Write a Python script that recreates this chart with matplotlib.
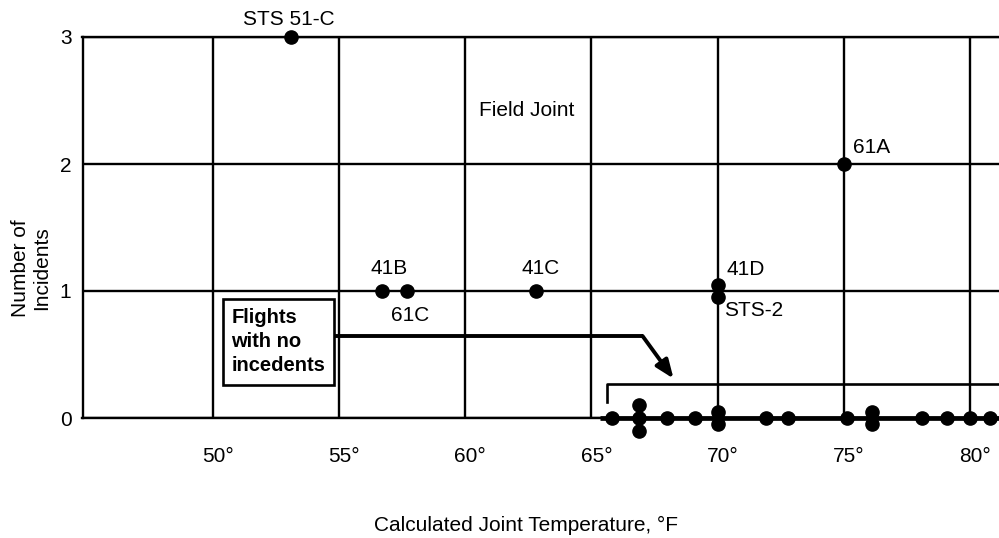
import matplotlib
matplotlib.use("Agg")
import matplotlib.pyplot as plt
from matplotlib.patches import Rectangle
from matplotlib.transforms import ScaledTranslation
from collections import defaultdict

plt.rcParams['font.family'] = ['Liberation Sans', 'DejaVu Sans']

# ---- data ----
incident_temps = [53.1, 56.7, 57.7, 62.8, 70.0, 70.0, 75.0]
incident_counts = [3, 1, 1, 1, 1, 1, 2]
incident_names = ["STS 51-C", "41B", "61C", "41C", "41D", "STS-2", "61A"]

zero_temps = [65.8, 66.9, 66.9, 66.9, 68.0, 69.1, 70.0, 70.0, 71.9, 72.8,
              75.1, 76.1, 76.1, 78.1, 79.1, 80.0, 80.8]
zero_counts = [0] * len(zero_temps)

x_ticks = [50, 55, 60, 65, 70, 75, 80]
x_tick_labels = ["50°", "55°", "60°", "65°", "70°", "75°", "80°"]
y_ticks = [0, 1, 2, 3]

title_text = "Field Joint"
box_text = "Flights\nwith no\nincedents"
x_label = "Calculated Joint Temperature, °F"
y_label = "Number of\nIncidents"

FS = 15

# ---- figure ----
W, H = 999, 538
fig = plt.figure(figsize=(W / 100, H / 100), dpi=100)
ax = fig.add_axes([82.5 / W, 120 / H, 1 - 82.5 / W, 381 / H])
ax.set_xlim(44.84, 81.14)
ax.set_ylim(0, 3)

for s in ['left', 'top', 'bottom']:
    ax.spines[s].set_linewidth(1.7)
    ax.spines[s].set_color('black')
ax.spines['right'].set_visible(False)

ax.set_xticks(x_ticks)
ax.set_xticklabels(x_tick_labels, fontsize=FS)
ax.set_yticks(y_ticks)
ax.set_yticklabels([str(v) for v in y_ticks], fontsize=FS)
ax.tick_params(axis='both', length=0)
ax.tick_params(axis='y', pad=8)
ax.tick_params(axis='x', pad=21)
for lab in ax.get_xticklabels():
    lab.set_transform(lab.get_transform() + ScaledTranslation(5 / 100, 0, fig.dpi_scale_trans))
ax.grid(True, color='black', linewidth=1.7)
ax.set_axisbelow(True)

# thick base line under the zero-incident flights and the bracket
ax.plot([65.33, 81.3], [0, 0], color='black', lw=3.4, clip_on=False,
        solid_capstyle='butt', zorder=3)
ax.plot([65.61, 65.61, 81.3], [0.126, 0.268, 0.268], color='black', lw=1.9,
        clip_on=False, zorder=3)

# points, stacked when temperatures coincide
all_t = incident_temps + zero_temps
all_c = incident_counts + zero_counts
groups = defaultdict(list)
for i, (t, c) in enumerate(zip(all_t, all_c)):
    groups[(t, c)].append(i)
px, py = [], []
step = 0.1
for (t, c), idxs in groups.items():
    n = len(idxs)
    for k in range(n):
        px.append(t)
        py.append(c + step * ((n - 1) / 2 - k))
ax.plot(px, py, 'o', color='black', ms=9.5, clip_on=False, zorder=6)

# point labels
label_pos = {
    "STS 51-C": (53.02, 3.138),
    "41B": (57.00, 1.177),
    "61C": (57.83, 0.807),
    "41C": (62.98, 1.177),
    "41D": (71.10, 1.173),
    "STS-2": (71.41, 0.850),
    "61A": (76.10, 2.126),
}
for name in incident_names:
    x, y = label_pos[name]
    ax.text(x, y, name, ha='center', va='center', fontsize=FS, clip_on=False)

ax.text(62.44, 2.425, title_text, ha='center', va='center', fontsize=FS)

# box with arrow
ax.add_patch(Rectangle((50.40, 0.260), 4.40, 0.677, facecolor='white',
                       edgecolor='black', lw=1.9, zorder=7))
ax.text(50.74, 0.602, box_text, ha='left', va='center', fontsize=14.5,
        fontweight='bold', linespacing=1.33, zorder=8)
ax.plot([54.80, 67.04], [0.646, 0.646], color='black', lw=2.8, zorder=4,
        solid_capstyle='butt')
ax.annotate('', xy=(68.25, 0.31), xytext=(67.02, 0.646),
            arrowprops=dict(arrowstyle='-|>,head_length=0.5,head_width=0.2',
                            lw=2.8, color='black',
                            mutation_scale=22, shrinkA=0, shrinkB=0), zorder=4)

# axis labels
fig.text(526 / W, 1 - 525 / H, x_label, ha='center', va='center', fontsize=FS)
fig.text(31 / W, 1 - 268 / H, y_label, ha='center', va='center', fontsize=FS,
         rotation=90, linespacing=1.15)

fig.savefig("out.png", dpi=100)
